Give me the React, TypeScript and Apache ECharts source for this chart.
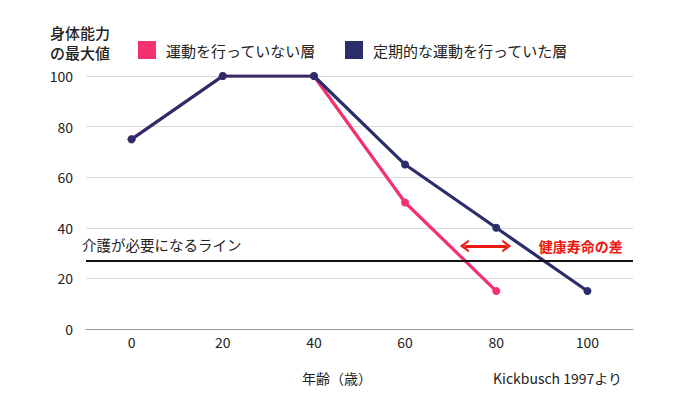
import React, { useEffect, useRef } from "react";
import * as echarts from "echarts";

const ages = ["0", "20", "40", "60", "80", "100"];
const noExercise = [75, 100, 100, 50, 15, null];
const regularExercise = [75, 100, 100, 65, 40, 15];
const careLine = 27;
const gapArrow = { fromAge: 73, toAge: 82.3, level: 32.8 };
const yTicks = { min: 0, max: 100, interval: 20 };

const FONT = "'Noto Sans CJK JP', 'Noto Sans', sans-serif";
const PINK = "#F5306F";
const NAVY = "#2C2E6B";
const RED = "#EC1A12";

const chevron = "path://M0,12 L6,0 L12,12 L9.6,12 L6,4.8 L2.4,12 Z";

export default function App() {
  const ref = useRef<HTMLDivElement>(null);
  useEffect(() => {
    if (!ref.current) return;
    const chart = echarts.init(ref.current, undefined, { renderer: "svg" });
    chart.setOption({
      animation: false,
      textStyle: { fontFamily: FONT, color: "#222" },
      title: [
        {
          text: "身体能力\nの最大値",
          left: 45,
          top: 17,
          textStyle: { fontFamily: FONT, fontSize: 15, lineHeight: 20, fontWeight: 500, color: "#222" },
        },
        {
          text: "年齢（歳）",
          left: 297,
          top: 366,
          textStyle: { fontFamily: FONT, fontSize: 14, fontWeight: "normal", color: "#222" },
        },
        {
          text: "Kickbusch 1997より",
          left: 488,
          top: 366,
          textStyle: { fontFamily: FONT, fontSize: 14, fontWeight: "normal", color: "#222" },
        },
      ],
      legend: {
        left: 133,
        top: 36,
        icon: "rect",
        itemWidth: 18,
        itemHeight: 18,
        itemGap: 29,
        textStyle: { fontFamily: FONT, fontSize: 15, color: "#222", padding: [0, 0, 0, 5] },
        data: ["運動を行っていない層", "定期的な運動を行っていた層"],
      },
      grid: { left: 86, right: 42, top: 76, bottom: 85 },
      xAxis: [
        {
          type: "category",
          data: ages,
          boundaryGap: true,
          axisLine: { show: true, lineStyle: { color: "#999", width: 1 } },
          axisTick: { show: false },
          axisLabel: { fontFamily: FONT, fontSize: 14, color: "#222", margin: 6 },
        },
        {
          type: "value",
          min: -10,
          max: 110,
          show: false,
        },
      ],
      yAxis: {
        type: "value",
        min: yTicks.min,
        max: yTicks.max,
        interval: yTicks.interval,
        axisLine: { show: false },
        axisTick: { show: false },
        axisLabel: { fontFamily: FONT, fontSize: 14, color: "#222", margin: 13 },
        splitLine: { lineStyle: { color: "#d9d9d9", width: 1 } },
      },
      series: [
        {
          name: "運動を行っていない層",
          type: "line",
          data: noExercise,
          color: PINK,
          lineStyle: { color: PINK, width: 3.2 },
          itemStyle: { color: PINK },
          symbol: "circle",
          symbolSize: 8,
          z: 2,
        },
        {
          name: "定期的な運動を行っていた層",
          type: "line",
          data: regularExercise,
          color: NAVY,
          lineStyle: { color: NAVY, width: 3.2 },
          itemStyle: { color: NAVY },
          symbol: "circle",
          symbolSize: 8,
          z: 3,
        },
        {
          name: "annotations",
          type: "line",
          xAxisIndex: 1,
          data: [],
          silent: true,
          markLine: {
            silent: true,
            symbol: ["none", "none"],
            data: [
              {
                yAxis: careLine,
                lineStyle: { color: "#111", width: 2, type: "solid" },
                label: {
                  show: true,
                  position: "insideStartTop",
                  formatter: "介護が必要になるライン",
                  fontFamily: FONT,
                  fontSize: 14.5,
                  color: "#222",
                  distance: [-4, 9],
                },
              },
              [
                {
                  coord: [gapArrow.fromAge, gapArrow.level],
                  symbol: chevron,
                  symbolSize: [13, 9],
                  lineStyle: { color: RED, width: 3, type: "solid" },
                  label: {
                    show: true,
                    position: "end",
                    formatter: "健康寿命の差",
                    fontFamily: FONT,
                    fontSize: 14,
                    fontWeight: "bold",
                    color: RED,
                    distance: 32,
                  },
                },
                {
                  coord: [gapArrow.toAge, gapArrow.level],
                  symbol: chevron,
                  symbolSize: [13, 9],
                },
              ],
            ],
          },
        },
      ],
    });
    return () => chart.dispose();
  }, []);
  return <div ref={ref} style={{ width: 675, height: 414, margin: -8 }} />;
}
